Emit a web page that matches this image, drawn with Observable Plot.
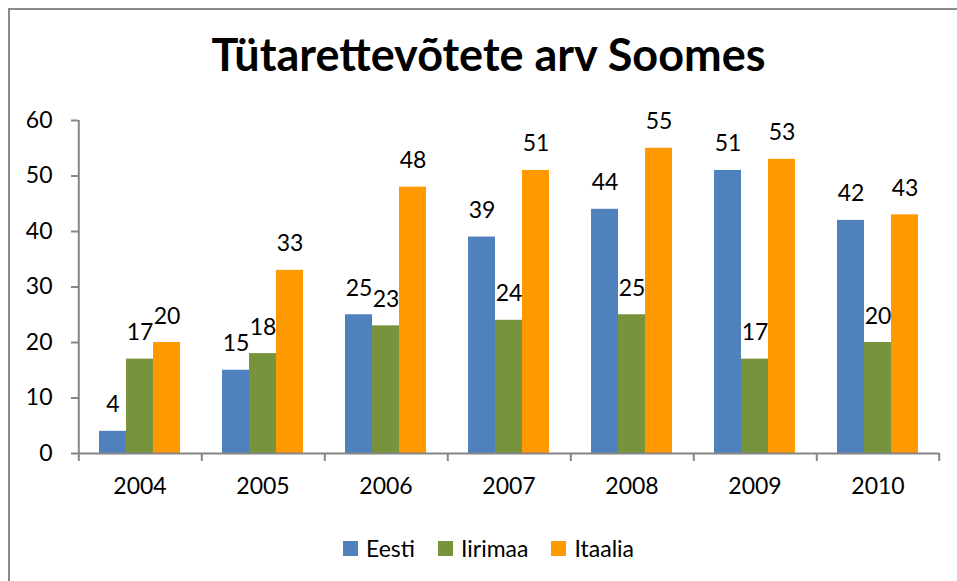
<!DOCTYPE html>
<html>
<head>
<meta charset="utf-8">
<script src="https://cdn.jsdelivr.net/npm/d3@7"></script>
<script src="https://cdn.jsdelivr.net/npm/@observablehq/plot@0.6"></script>
<style>
  html, body { margin: 0; padding: 0; background: #fff; }
  #wrap { position: relative; width: 957px; height: 581px; overflow: hidden; font-family: Lato, "Open Sans", sans-serif; color: #000; }
  #border { position: absolute; left: 8px; top: 8px; width: 1000px; height: 1000px; border-left: 2px solid #8a8a8a; border-top: 2px solid #8a8a8a; box-sizing: border-box; pointer-events: none; }
  #title { height: 90px; box-sizing: border-box; padding-top: 27px; padding-left: 20px; text-align: center; font-weight: 700; font-size: 45px; line-height: 54px; white-space: nowrap; }
  #chart svg { display: block; overflow: visible; }
  #legend { height: 71px; box-sizing: border-box; padding-top: 5px; padding-left: 20px; display: flex; justify-content: center; font-size: 23px; line-height: 30px; }
  .item { display: flex; align-items: center; margin-right: 23px; }
  .item:last-child { margin-right: 0; }
  .sw { width: 15px; height: 15px; margin-right: 8px; }
</style>
</head>
<body>
<div id="wrap">
  <div id="title"></div>
  <div id="chart"></div>
  <div id="legend"></div>
  <div id="border"></div>
</div>
<script>
const title = "Tütarettevõtete arv Soomes";
const years = ["2004", "2005", "2006", "2007", "2008", "2009", "2010"];
const series = ["Eesti", "Iirimaa", "Itaalia"];
const eesti = [4, 15, 25, 39, 44, 51, 42];
const iirimaa = [17, 18, 23, 24, 25, 17, 20];
const itaalia = [20, 33, 48, 51, 55, 53, 43];
const colors = ["#4F81BD", "#77933C", "#FF9900"];
const yTicks = [0, 10, 20, 30, 40, 50, 60];

const values = [eesti, iirimaa, itaalia];
const table = [];
years.forEach((yr, i) => series.forEach((s, j) => table.push({year: yr, series: s, value: values[j][i]})));

const W = 957, H = 420, mL = 77, mR = 18, mT = 30, mB = 57;
const yMax = yTicks[yTicks.length - 1];
const facetW = (W - mL - mR) / years.length;
const outer = 0.75;
const step = facetW / (series.length + 2 * outer);
const edgeDx = (outer + 0.5) * step;
const tickLen = 8 / ((H - mT - mB) / yMax); // 8px in y units
const axisColor = "#868686";

const leftEdges = years.map(y => ({year: y, series: series[0]}));
const rightEdge = [{year: years[years.length - 1], series: series[series.length - 1]}];

document.getElementById("title").textContent = title;

const plot = Plot.plot({
  width: W, height: H,
  marginLeft: mL, marginRight: mR, marginTop: mT, marginBottom: mB,
  style: {fontFamily: "Lato, 'Open Sans', sans-serif", fontSize: "23px", color: "#000", background: "transparent", overflow: "visible"},
  fx: {domain: years, padding: 0, label: null},
  x: {domain: series, paddingInner: 0, paddingOuter: outer, axis: null},
  y: {domain: [0, yMax], label: null},
  color: {domain: series, range: colors},
  marks: [
    Plot.barY(table, {fx: "year", x: "series", y: "value", fill: "series"}),
    Plot.ruleY([0], {stroke: axisColor, strokeWidth: 2}),
    Plot.ruleX([leftEdges[0]], {fx: "year", x: "series", y1: 0, y2: yMax, dx: -edgeDx, stroke: axisColor, strokeWidth: 2}),
    Plot.ruleX(leftEdges, {fx: "year", x: "series", y1: 0, y2: -tickLen, dx: -edgeDx, stroke: axisColor, strokeWidth: 2}),
    Plot.ruleX(rightEdge, {fx: "year", x: "series", y1: 0, y2: -tickLen, dx: edgeDx, stroke: axisColor, strokeWidth: 2}),
    Plot.axisY({ticks: yTicks, tickSize: 7, tickPadding: 19, stroke: axisColor, strokeWidth: 2, fill: "#000", fontSize: 23, label: null}),
    Plot.axisFx({anchor: "bottom", tickSize: 0, tickPadding: 24, fill: "#000", fontSize: 23, label: null}),
    Plot.text(table, {fx: "year", x: "series", y: "value", text: d => String(d.value), lineAnchor: "bottom", dy: -19, fill: "#000", fontSize: 23})
  ]
});
document.getElementById("chart").appendChild(plot);

const legend = document.getElementById("legend");
series.forEach((s, i) => {
  const item = document.createElement("div");
  item.className = "item";
  const sw = document.createElement("div");
  sw.className = "sw";
  sw.style.background = colors[i];
  const t = document.createElement("span");
  t.textContent = s;
  item.appendChild(sw);
  item.appendChild(t);
  legend.appendChild(item);
});
</script>
</body>
</html>
